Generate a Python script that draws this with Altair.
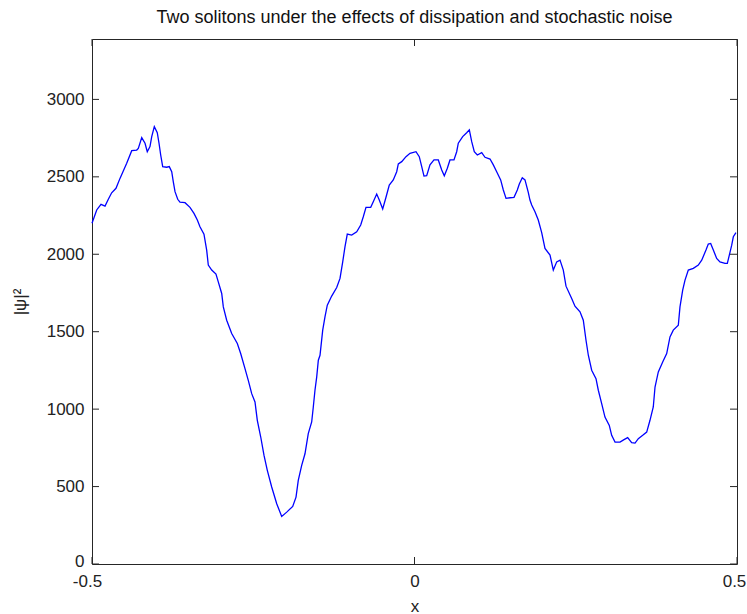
import altair as alt
import pandas as pd

# |psi|^2 profile sampled along x
x_vals = [
    -0.5, -0.4927, -0.486, -0.4798, -0.4747, -0.4695, -0.4628, -0.4566, -0.4515, -0.4462,
    -0.4384, -0.4307, -0.4282, -0.4229, -0.4178, -0.4143, -0.4101, -0.4074, -0.4034, -0.3988,
    -0.3961, -0.3935, -0.3904, -0.3842, -0.3802, -0.3764, -0.3740, -0.3713, -0.3671, -0.3636,
    -0.3558, -0.3481, -0.3419, -0.3367, -0.3326, -0.3264, -0.3222, -0.3197, -0.3144, -0.3078,
    -0.3042, -0.2989, -0.2964, -0.2912, -0.2834, -0.2747, -0.2695, -0.2628, -0.2577, -0.2524,
    -0.2473, -0.2437, -0.2384, -0.2333, -0.2282, -0.2214, -0.2136, -0.2059, -0.1981, -0.1888,
    -0.1837, -0.1802, -0.1749, -0.1698, -0.1647, -0.1594, -0.1569, -0.1543, -0.1516, -0.1491,
    -0.1465, -0.1423, -0.1388, -0.1352, -0.1284, -0.1206, -0.1155, -0.1113, -0.1078, -0.1042,
    -0.0974, -0.0896, -0.0834, -0.0794, -0.0752, -0.0679, -0.0639, -0.0586, -0.0546, -0.0493,
    -0.0442, -0.0391, -0.0329, -0.0276, -0.0251, -0.0198, -0.0132, -0.0070, 0.0023, 0.0074,
    0.0112, 0.0147, 0.0189, 0.0240, 0.0302, 0.0369, 0.0422, 0.0462, 0.0509, 0.0550,
    0.0612, 0.0654, 0.0679, 0.0747, 0.0809, 0.0850, 0.0887, 0.0927, 0.0974, 0.1042,
    0.1093, 0.1171, 0.1222, 0.1274, 0.1336, 0.1377, 0.1419, 0.1481, 0.1543, 0.1594,
    0.1625, 0.1671, 0.1713, 0.1764, 0.1790, 0.1817, 0.1868, 0.1919, 0.1972, 0.2023,
    0.2101, 0.2152, 0.2205, 0.2256, 0.2307, 0.2349, 0.2437, 0.2488, 0.2566, 0.2617,
    0.2659, 0.2695, 0.2747, 0.2814, 0.2850, 0.2902, 0.2953, 0.3020, 0.3057, 0.3109,
    0.3186, 0.3248, 0.3305, 0.3367, 0.3419, 0.3470, 0.3538, 0.3600, 0.3651, 0.3702,
    0.3729, 0.3780, 0.3848, 0.3910, 0.3961, 0.4012, 0.4090, 0.4116, 0.4158, 0.4194,
    0.4245, 0.4323, 0.4400, 0.4453, 0.4519, 0.4555, 0.4592, 0.4633, 0.4685, 0.4736,
    0.4814, 0.4850, 0.4881, 0.4918, 0.4943, 0.4984,
]
psi2_vals = [
    2200, 2286, 2322, 2311, 2355, 2397, 2426, 2490, 2538, 2587,
    2669, 2673, 2684, 2753, 2717, 2662, 2695, 2760, 2824, 2785,
    2717, 2641, 2566, 2562, 2566, 2533, 2469, 2404, 2355, 2337,
    2333, 2303, 2264, 2221, 2178, 2130, 2027, 1930, 1898, 1872,
    1822, 1747, 1660, 1574, 1488, 1424, 1359, 1262, 1186, 1100,
    1046, 928, 820, 701, 605, 497, 389, 307, 335, 372,
    432, 540, 637, 712, 842, 917, 1014, 1122, 1208, 1316,
    1348, 1510, 1596, 1671, 1730, 1785, 1844, 1951, 2048, 2130,
    2124, 2145, 2189, 2242, 2303, 2303, 2339, 2389, 2350, 2292,
    2368, 2447, 2480, 2533, 2583, 2598, 2630, 2652, 2662, 2630,
    2566, 2505, 2507, 2577, 2609, 2609, 2544, 2507, 2555, 2609,
    2609, 2662, 2717, 2760, 2785, 2803, 2727, 2662, 2641, 2656,
    2626, 2615, 2577, 2533, 2480, 2415, 2361, 2365, 2368, 2415,
    2454, 2494, 2480, 2400, 2350, 2318, 2275, 2221, 2140, 2038,
    1995, 1898, 1951, 1962, 1898, 1794, 1715, 1665, 1628, 1574,
    1445, 1348, 1251, 1197, 1122, 1036, 949, 895, 831, 787,
    787, 803, 816, 784, 781, 809, 831, 852, 928, 1014,
    1143, 1240, 1305, 1359, 1466, 1510, 1542, 1660, 1768, 1833,
    1898, 1909, 1930, 1962, 2027, 2066, 2070, 2027, 1973, 1951,
    1941, 1941, 1995, 2059, 2113, 2140,
]

x_ticks = [-0.5, 0, 0.5]
y_ticks = [0, 500, 1000, 1500, 2000, 2500, 3000]

W, H = 645, 525
TICK = 7
FRAME = "#262626"
FONT = "Liberation Sans"

x_scale = alt.Scale(domain=[-0.5, 0.5], nice=False, zero=False)
y_scale = alt.Scale(domain=[0, 3390], nice=False)

x_axis = alt.Axis(
    values=x_ticks, title="x", labelExpr="datum.value + ''",
    titleY=47, titleBaseline="alphabetic",
    labelOffset={"condition": [{"test": "datum.value < -0.4", "value": -5},
                               {"test": "datum.value > 0.4", "value": -3}],
                 "value": 0},
)
y_axis = alt.Axis(
    values=y_ticks, title="|ψ|²", format="d", titleAngle=270,
    titleX=-72, titleY=H / 2, titleAlign="center", titleBaseline="middle",
    labelOffset={"condition": {"test": "datum.value == 0", "value": -3}, "value": 0},
)

curve = pd.DataFrame({"x": x_vals, "psi2": psi2_vals})
xt = pd.DataFrame({"x": x_ticks})
yt = pd.DataFrame({"psi2": y_ticks})

line = alt.Chart(curve).mark_line(color="#0000ff", strokeWidth=1.3).encode(
    x=alt.X("x:Q", scale=x_scale, axis=x_axis),
    y=alt.Y("psi2:Q", scale=y_scale, axis=y_axis),
)

# inward tick marks on all four sides of the box
left_ticks = alt.Chart(yt).mark_rule(color=FRAME, strokeWidth=1).encode(
    y=alt.Y("psi2:Q", scale=y_scale, axis=y_axis), x=alt.value(0), x2=alt.value(TICK))
right_ticks = alt.Chart(yt).mark_rule(color=FRAME, strokeWidth=1).encode(
    y=alt.Y("psi2:Q", scale=y_scale, axis=y_axis), x=alt.value(W), x2=alt.value(W - TICK))
bottom_ticks = alt.Chart(xt).mark_rule(color=FRAME, strokeWidth=1).encode(
    x=alt.X("x:Q", scale=x_scale, axis=x_axis), y=alt.value(H), y2=alt.value(H - TICK))
top_ticks = alt.Chart(xt).mark_rule(color=FRAME, strokeWidth=1).encode(
    x=alt.X("x:Q", scale=x_scale, axis=x_axis), y=alt.value(0), y2=alt.value(TICK))

chart = (
    alt.layer(line, left_ticks, right_ticks, bottom_ticks, top_ticks)
    .properties(
        width=W, height=H,
        background="white",
        title=alt.TitleParams(
            "Two solitons under the effects of dissipation and stochastic noise",
            anchor="middle", fontSize=18, font=FONT, fontWeight="normal",
            color="#111", offset=15, dy=17, baseline="alphabetic"),
        autosize=alt.AutoSizeParams(type="none"),
        padding={"left": 92, "top": 39, "right": 10, "bottom": 50},
    )
    .configure_view(stroke=FRAME, strokeWidth=1)
    .configure_axis(
        grid=False, domain=False, ticks=False, labelFont=FONT, titleFont=FONT,
        labelFontSize=17, titleFontSize=17, labelColor="#222", titleColor="#222",
        titleFontWeight="normal", labelPadding=8)
    .configure_axisX(labelBaseline="top", labelFlush=False, labelPadding=9)
    .configure_axisY(labelAlign="right", labelBaseline="middle")
)

chart.save("out.html", embed_options={"renderer": "svg", "actions": False})
